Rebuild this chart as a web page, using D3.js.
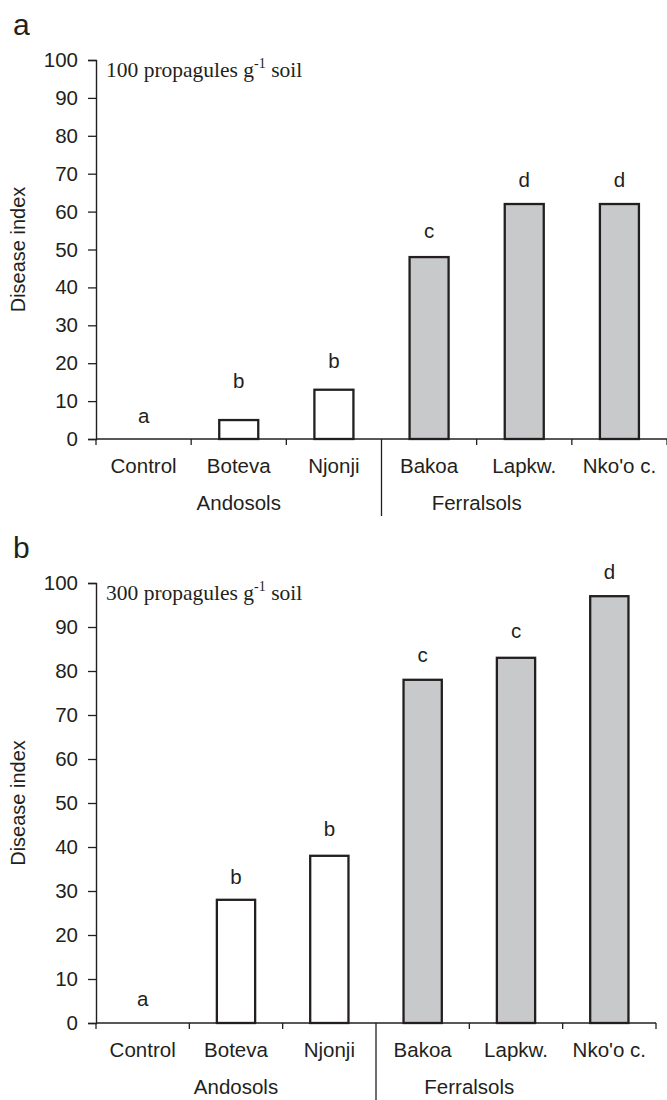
<!DOCTYPE html>
<html>
<head>
<meta charset="utf-8">
<script src="https://cdn.jsdelivr.net/npm/d3@7"></script>
<style>
  body { margin: 0; background: #fff; }
  svg { display: block; }
  text { fill: #231f20; }
</style>
</head>
<body>
<div id="chart"></div>
<script>
// data
const categories = ["Control", "Boteva", "Njonji", "Bakoa", "Lapkw.", "Nko'o c."];
const soilGroups = ["Andosols", "Andosols", "Andosols", "Ferralsols", "Ferralsols", "Ferralsols"];
const index100 = [0, 5, 13, 48, 62, 62];
const index300 = [0, 28, 38, 78, 83, 97];
const letters100 = ["a", "b", "b", "c", "d", "d"];
const letters300 = ["a", "b", "b", "c", "c", "d"];
// height (disease index units) where the significance letters sit
const letterAt100 = [4.2, 13.5, 18.7, 53, 66.5, 66.5];
const letterAt300 = [3.8, 31.6, 42.5, 82, 87.5, 101];
const yTicks = [0, 10, 20, 30, 40, 50, 60, 70, 80, 90, 100];

const svg = d3.select("#chart").append("svg")
    .attr("width", 667)
    .attr("height", 1100);

const sans = "'Liberation Sans', Arial, sans-serif";
const serif = "'Liberation Serif', 'Times New Roman', serif";

drawPanel({panel: "a", dose: "100", values: index100, letters: letters100, letterAt: letterAt100,
           left: 96, right: 667, top: 60, bottom: 439});
drawPanel({panel: "b", dose: "300", values: index300, letters: letters300, letterAt: letterAt300,
           left: 96, right: 656, top: 583, bottom: 1023});

function drawPanel(p) {
    var data = categories.map(function(c, i) {
        return {cat: c, group: soilGroups[i], v: p.values[i], letter: p.letters[i], ly: p.letterAt[i]};
    });

    var x = d3.scaleBand().domain(categories).range([p.left, p.right]).padding(0);
    var y = d3.scaleLinear().domain([0, 100]).range([p.bottom, p.top]);
    var g = svg.append("g");

    // panel letter
    g.append("text")
        .attr("x", 13).attr("y", p.top - 25)
        .style("font-family", sans).style("font-size", "30px")
        .text(p.panel);

    // y axis
    var yAxis = g.append("g")
        .attr("transform", "translate(" + p.left + ",0)")
        .call(d3.axisLeft(y).tickValues(yTicks).tickSize(8).tickPadding(10));
    yAxis.select(".domain").attr("stroke", "#231f20").attr("stroke-width", 1.4);
    yAxis.selectAll(".tick line").attr("stroke", "#231f20").attr("stroke-width", 1.3);
    yAxis.selectAll(".tick text")
        .style("font-family", sans).style("font-size", "20.5px").attr("fill", "#231f20");

    g.append("text")
        .attr("transform", "translate(25," + ((p.top + p.bottom) / 2) + ") rotate(-90)")
        .attr("text-anchor", "middle")
        .style("font-family", sans).style("font-size", "20px")
        .text("Disease index");

    // dose note
    var note = g.append("text")
        .attr("x", p.left + 10).attr("y", p.top + 17)
        .style("font-family", serif).style("font-size", "21.5px");
    note.append("tspan").text(p.dose + " propagules g");
    note.append("tspan").attr("dy", -9).style("font-size", "14px").text("-1");
    note.append("tspan").attr("dy", 9).text(" soil");

    // bars
    var bw = x.bandwidth() * 0.41;
    g.selectAll(".bar")
        .data(data.filter(function(d) { return d.v > 0; }))
        .enter()
        .append("rect")
        .attr("class", "bar")
        .attr("x", function(d) { return x(d.cat) + (x.bandwidth() - bw) / 2; })
        .attr("y", function(d) { return y(d.v); })
        .attr("width", bw)
        .attr("height", function(d) { return y(0) - y(d.v); })
        .style("fill", function(d) { return d.group == "Ferralsols" ? "#c8c9cb" : "#ffffff"; })
        .style("stroke", "#231f20")
        .style("stroke-width", 2.3);

    // significance letters
    g.selectAll(".sig")
        .data(data)
        .enter()
        .append("text")
        .attr("class", "sig")
        .attr("x", function(d) { return x(d.cat) + x.bandwidth() / 2; })
        .attr("y", function(d) { return y(d.ly); })
        .attr("text-anchor", "middle")
        .style("font-family", sans).style("font-size", "20.5px")
        .text(function(d) { return d.letter; });

    // x axis: ticks on the category boundaries
    var xa = g.append("g");
    xa.append("line")
        .attr("x1", p.left).attr("x2", p.right)
        .attr("y1", y(0)).attr("y2", y(0))
        .attr("stroke", "#231f20").attr("stroke-width", 1.4);
    var bounds = categories.map(function(c) { return x(c); }).concat([p.right]);
    xa.selectAll(".xtick")
        .data(bounds)
        .enter()
        .append("line")
        .attr("x1", function(d) { return d; }).attr("x2", function(d) { return d; })
        .attr("y1", y(0))
        .attr("y2", function(d, i) { return i == 3 ? y(0) + 77 : y(0) + 6; })
        .attr("stroke", "#231f20").attr("stroke-width", 1.3);

    xa.selectAll(".cat")
        .data(data)
        .enter()
        .append("text")
        .attr("x", function(d) { return x(d.cat) + x.bandwidth() / 2; })
        .attr("y", y(0) + 34)
        .attr("text-anchor", "middle")
        .style("font-family", sans).style("font-size", "20.5px")
        .text(function(d) { return d.cat; });

    // soil group labels
    var groups = [
        {name: "Andosols", x: x("Boteva") + x.bandwidth() / 2},
        {name: "Ferralsols", x: x("Lapkw.")}
    ];
    xa.selectAll(".grp")
        .data(groups)
        .enter()
        .append("text")
        .attr("x", function(d) { return d.x; })
        .attr("y", y(0) + 71)
        .attr("text-anchor", "middle")
        .style("font-family", sans).style("font-size", "20.5px")
        .text(function(d) { return d.name; });
}
</script>
</body>
</html>
